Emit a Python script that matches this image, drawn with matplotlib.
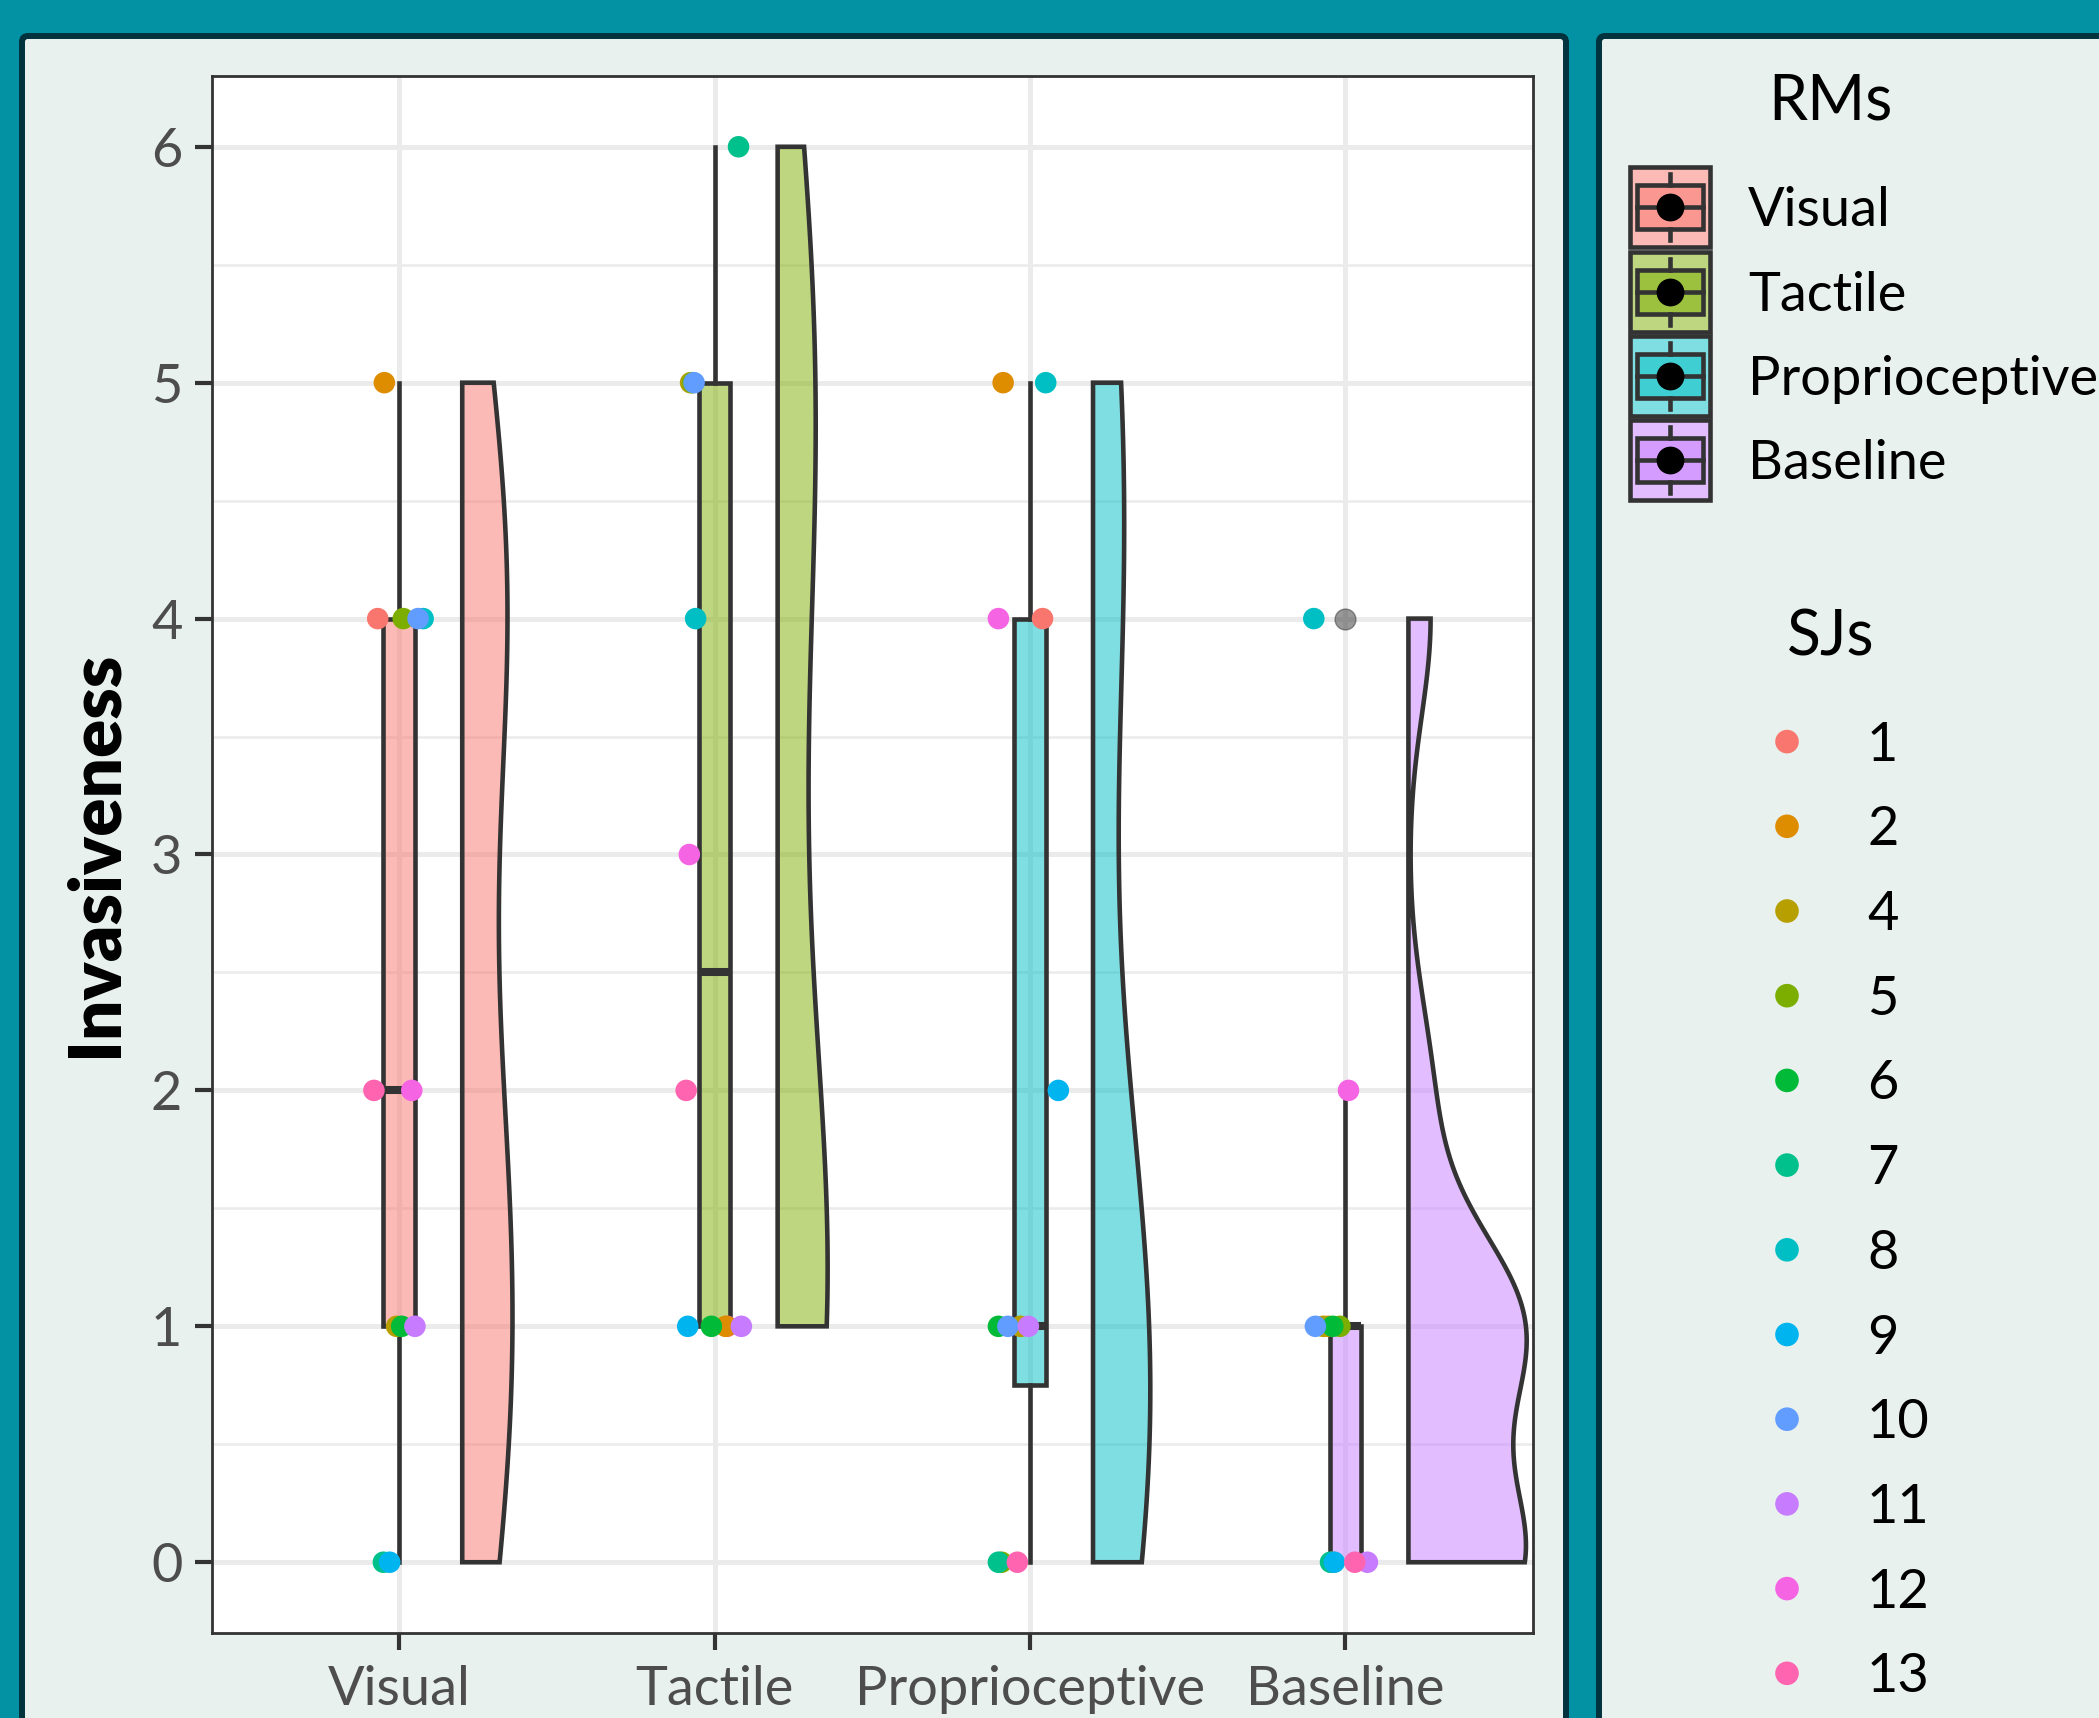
import numpy as np
import matplotlib
matplotlib.use("Agg")
import matplotlib.pyplot as plt
from matplotlib.patches import FancyBboxPatch, Rectangle, Polygon
from matplotlib.colors import to_rgba

# ---------------- data ----------------
categories = ["Visual", "Tactile", "Proprioceptive", "Baseline"]
subjects = ["1", "2", "4", "5", "6", "7", "8", "9", "10", "11", "12", "13"]
visual   = [4, 5, 1, 4, 1, 0, 4, 0, 4, 1, 2, 2]
tactile  = [1, 1, 5, 5, 1, 6, 4, 1, 5, 1, 3, 2]
proprio  = [4, 5, 1, 0, 1, 0, 5, 2, 1, 1, 4, 0]
baseline = [0, 1, 1, 1, 1, 0, 4, 0, 1, 0, 2, 0]
# horizontal jitter of each subject's dot (category units)
jit_visual   = [-0.068, -0.047, -0.008, 0.013, 0.008, -0.050, 0.076, -0.030, 0.060, 0.050, 0.040, -0.080]
jit_tactile  = [0.040, 0.035, -0.076, -0.070, -0.010, 0.076, -0.060, -0.085, -0.065, 0.085, -0.080, -0.090]
jit_proprio  = [0.040, -0.085, -0.030, -0.090, -0.100, -0.100, 0.050, 0.090, -0.070, -0.005, -0.100, -0.040]
jit_baseline = [-0.040, -0.055, -0.070, -0.017, -0.040, -0.047, -0.100, -0.035, -0.095, 0.070, 0.010, 0.030]
y_ticks = [0, 1, 2, 3, 4, 5, 6]

rm_colors = ["#F8766D", "#7CAE00", "#00BFC4", "#C77CFF"]
sj_colors = ["#F8766D", "#DE8C00", "#B79F00", "#7CAE00", "#00BA38", "#00C08B",
             "#00BFC4", "#00B4F0", "#619CFF", "#C77CFF", "#F564E3", "#FF64B0"]

values = [visual, tactile, proprio, baseline]
jitters = [jit_visual, jit_tactile, jit_proprio, jit_baseline]

# ---------------- style ----------------
plt.rcParams['font.family'] = ['Lato', 'DejaVu Sans']
TEAL = "#0392A4"
PANEL = "#E8F1EE"
BORDER = "#00333D"
DARK = "#333333"
LW = 3.3

W, H = 2099, 1718
DPI = 100
fig = plt.figure(figsize=(W / DPI, H / DPI), dpi=DPI, facecolor=TEAL)

bg = fig.add_axes([0, 0, 1, 1], zorder=0)
bg.set_xlim(0, W)
bg.set_ylim(H, 0)
bg.axis('off')
bg.add_patch(FancyBboxPatch((22, 36), 1544, 1760, boxstyle="round,pad=0,rounding_size=6",
                            fc=PANEL, ec=BORDER, lw=4.3))
bg.add_patch(FancyBboxPatch((1599, 36), 700, 1760, boxstyle="round,pad=0,rounding_size=6",
                            fc=PANEL, ec=BORDER, lw=4.3))

# ---------------- main axes ----------------
L, R, T, B = 211.5, 1533, 76, 1633
ax = fig.add_axes([L / W, 1 - B / H, (R - L) / W, (B - T) / H], zorder=1)
ax.set_facecolor("white")
ax.set_xlim(0.405, 4.595)
ax.set_ylim(-0.3, 6.3)
ax.set_axisbelow(True)
ax.set_yticks(y_ticks)
ax.set_yticks([v + 0.5 for v in y_ticks[:-1]], minor=True)
ax.set_xticks(range(1, len(categories) + 1))
ax.set_xticklabels(categories)
ax.grid(True, which='major', axis='both', color='#EBEBEB', lw=3.6)
ax.grid(True, which='minor', axis='y', color='#EBEBEB', lw=1.8)
ax.tick_params(which='major', direction='out', length=12, width=3.0, color=DARK,
               labelsize=39, labelcolor='#4D4D4D', pad=9)
ax.tick_params(axis='x', pad=11)
ax.tick_params(which='minor', length=0)
for s in ax.spines.values():
    s.set_color(DARK)
    s.set_linewidth(2.0)


def kde_nrd0(vals, grid):
    v = np.asarray(vals, float)
    n = len(v)
    sd = v.std(ddof=1)
    q75, q25 = np.percentile(v, [75, 25])
    lo = min(sd, (q75 - q25) / 1.34)
    if lo <= 0:
        lo = sd if sd > 0 else 1.0
    bw = 0.9 * lo * n ** -0.2
    z = (grid[:, None] - v[None, :]) / bw
    return np.exp(-0.5 * z ** 2).sum(1) / (n * bw * np.sqrt(2 * np.pi))


# half violins (flat side on the left), scale = area
VIOLIN_OFFSET = 0.2
VIOLIN_WIDTH = 0.75
grids, dens = [], []
for vals in values:
    g = np.linspace(min(vals), max(vals), 512)
    grids.append(g)
    dens.append(kde_nrd0(vals, g))
gmax = max(d.max() for d in dens)
for i, (g, d) in enumerate(zip(grids, dens)):
    x0 = i + 1 + VIOLIN_OFFSET
    hw = d / gmax * VIOLIN_WIDTH / 2
    pts = [(x0, g[0])] + list(zip(x0 + hw, g)) + [(x0, g[-1])]
    ax.add_patch(Polygon(pts, closed=True, fc=to_rgba(rm_colors[i], 0.5), ec=DARK,
                         lw=LW, zorder=2, joinstyle='miter'))

# boxplots
bp = ax.boxplot(values, positions=range(1, len(categories) + 1), widths=0.1,
                patch_artist=True, whis=1.5, manage_ticks=False, showcaps=False,
                boxprops=dict(ec=DARK, lw=LW),
                whiskerprops=dict(color=DARK, lw=LW),
                medianprops=dict(color=DARK, lw=5.8, solid_capstyle='butt'),
                flierprops=dict(marker='o', mfc=DARK, mec=DARK, alpha=0.5, ms=15))
for patch, c in zip(bp['boxes'], rm_colors):
    patch.set_facecolor(to_rgba(c, 0.5))
    patch.set_zorder(3)
for k in ('whiskers', 'medians', 'fliers'):
    for a in bp[k]:
        a.set_zorder(3)

# subject points
for i, (vals, jit) in enumerate(zip(values, jitters)):
    for j, (v, dx) in enumerate(zip(vals, jit)):
        ax.scatter(i + 1 + dx, v, s=15.5 ** 2, color=sj_colors[j], edgecolors='none', zorder=4)

fig.text(96 / W, 1 - 854 / H, "Invasiveness", rotation=90, ha='center', va='center',
         fontsize=51, fontweight='heavy', color='black')

# ---------------- legends ----------------
FS = 39
FT = 45
bg.text(1830, 102, "RMs", ha='center', va='center', fontsize=FT, color='black')
rm_rows = [207, 292, 376, 460]
kx = 1670
for c, name, y in zip(rm_colors, categories, rm_rows):
    bg.add_patch(Rectangle((kx - 40, y - 40), 80, 80, fc='white', ec='none'))
    bg.add_patch(Rectangle((kx - 40, y - 40), 80, 80, fc=to_rgba(c, 0.5), ec=DARK, lw=LW))
    bg.plot([kx, kx], [y - 33, y - 22], color=DARK, lw=LW)
    bg.plot([kx, kx], [y + 22, y + 33], color=DARK, lw=LW)
    bg.add_patch(Rectangle((kx - 33, y - 22), 66, 44, fc=to_rgba(c, 0.5), ec=DARK, lw=LW))
    bg.plot([kx - 33, kx + 33], [y, y], color=DARK, lw=LW)
    bg.scatter([kx], [y], s=19 ** 2, color='black', zorder=5)
    bg.text(1748, y + 19, name, ha='left', va='baseline', fontsize=FS, color='black')

bg.text(1831, 638, "SJs", ha='center', va='center', fontsize=FT, color='black')
for k, (s, c) in enumerate(zip(subjects, sj_colors)):
    y = 741.6 + k * 84.7
    bg.scatter([1787], [y], s=17 ** 2, color=c, edgecolors='none')
    bg.text(1867, y + 19, s, ha='left', va='baseline', fontsize=FS, color='black')

fig.savefig("out.png", dpi=DPI, facecolor=TEAL)
